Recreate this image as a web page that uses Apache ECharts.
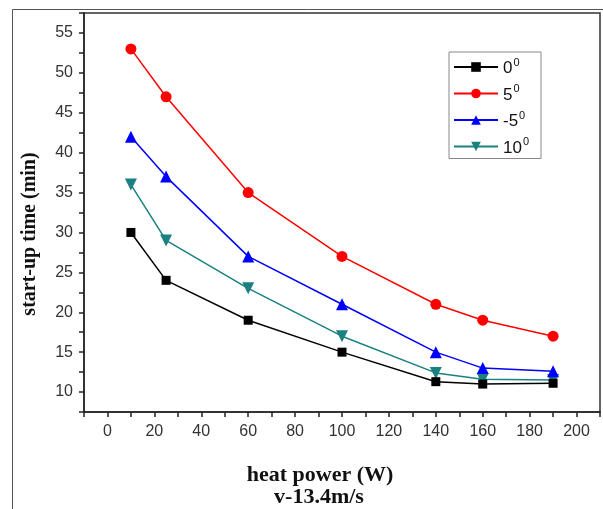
<!DOCTYPE html>
<html>
<head>
<meta charset="utf-8">
<script src="https://cdn.jsdelivr.net/npm/echarts@6/dist/echarts.min.js"></script>
<style>
html,body{margin:0;padding:0;background:#fff;}
#c{width:603px;height:509px;}
</style>
</head>
<body>
<div id="c"></div>
<script>
const heatPower = [10, 25, 60, 100, 140, 160, 190];
const seriesNames = ['0', '5', '-5', '10'];
const angle0 = [30, 24, 19, 15, 11.3, 11, 11.1];
const angle5 = [53, 47, 35, 27, 21, 19, 17];
const angleM5 = [42, 37, 27, 21, 15, 13, 12.6];
const angle10 = [36, 29, 23, 17, 12.4, 11.6, 11.5];
const xTitle = 'heat power (W)';
const xSubTitle = 'v-13.4m/s';
const yTitle = 'start-up time (min)';

const values = [angle0, angle5, angleM5, angle10];
const colors = ['#000000', '#ff0000', '#0000ff', '#1a8080'];
const symbols = ['rect', 'circle', 'triangle', 'triangle'];
const sizes = [9, 11, 12, 12];
const rotates = [0, 0, 0, 180];

const chart = echarts.init(document.getElementById('c'), null, {renderer: 'canvas'});
const option = {
  animation: false,
  backgroundColor: '#fff',
  grid: {left: 84, right: 2, top: 13, bottom: 97, show: true, borderColor: '#333', borderWidth: 1.5, backgroundColor: 'transparent'},
  legend: {
    orient: 'vertical',
    left: 449, top: 52,
    width: 92,
    padding: [5, 12, 2, 4],
    itemGap: 6.5,
    itemWidth: 44, itemHeight: 12,
    borderColor: '#888', borderWidth: 1,
    data: seriesNames,
    formatter: n => '{n|' + n + '}{s|0}',
    textStyle: {
      color: '#111',
      rich: {
        n: {fontFamily: 'Liberation Sans', fontSize: 17, color: '#111', lineHeight: 20, verticalAlign: 'bottom'},
        s: {fontFamily: 'Liberation Sans', fontSize: 11, color: '#111', lineHeight: 20, verticalAlign: 'top', padding: [0, 0, 0, 1]}
      }
    }
  },
  xAxis: {
    type: 'value', min: -10, max: 210, interval: 10,
    axisLine: {show: true, onZero: false, lineStyle: {color: '#222', width: 1.5}},
    axisTick: {show: true, inside: false, length: 5, lineStyle: {color: '#222', width: 1.5}},
    splitLine: {show: false},
    axisLabel: {
      margin: 12, color: '#333', fontFamily: 'Liberation Sans', fontSize: 16,
      formatter: v => (v >= 0 && v % 20 === 0) ? String(v) : ''
    }
  },
  yAxis: {
    type: 'value', min: 7.5, max: 57.5, interval: 2.5,
    axisLine: {show: true, onZero: false, lineStyle: {color: '#222', width: 1.5}},
    axisTick: {show: true, inside: false, length: 5, lineStyle: {color: '#222', width: 1.5}},
    splitLine: {show: false},
    axisLabel: {
      margin: 11, color: '#333', fontFamily: 'Liberation Sans', fontSize: 16,
      formatter: v => (Math.abs(v % 5) < 1e-9) ? String(v) : ''
    }
  },
  graphic: [
    {type: 'rect', silent: true, z: -10, shape: {x: 12.5, y: 9.5, width: 700, height: 600}, style: {fill: 'none', stroke: '#555', lineWidth: 1}},
    {type: 'text', x: 30, y: 234, rotation: Math.PI / 2, style: {text: yTitle, font: 'bold 20px "Liberation Serif"', fill: '#111', textAlign: 'center', textVerticalAlign: 'middle'}},
    {type: 'text', x: 320, y: 475, style: {text: xTitle, font: 'bold 22px "Liberation Serif"', fill: '#111', textAlign: 'center', textVerticalAlign: 'middle'}},
    {type: 'text', x: 319, y: 497, style: {text: xSubTitle, font: 'bold 22px "Liberation Serif"', fill: '#111', textAlign: 'center', textVerticalAlign: 'middle'}}
  ],
  series: seriesNames.map((name, i) => ({
    name: name,
    type: 'line',
    data: heatPower.map((x, j) => [x, values[i][j]]),
    symbol: symbols[i],
    symbolSize: sizes[i],
    symbolRotate: rotates[i],
    showAllSymbol: true,
    lineStyle: {color: colors[i], width: 1.5},
    itemStyle: {color: colors[i]},
    z: 2 + (3 - i)
  }))
};
chart.setOption(option);
</script>
</body>
</html>
